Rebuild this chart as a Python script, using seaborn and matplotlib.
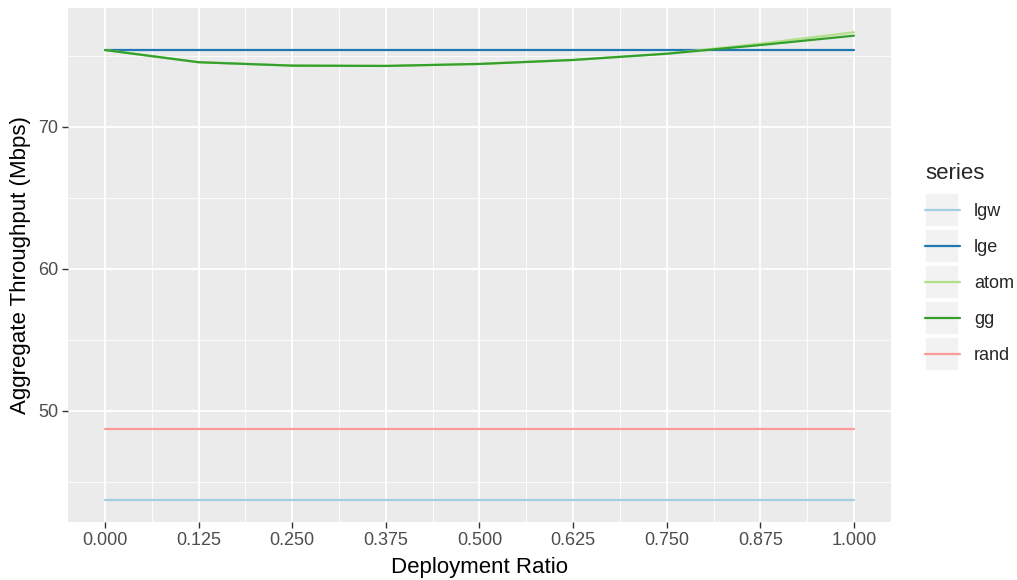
import numpy as np
import pandas as pd
import matplotlib
matplotlib.use("Agg")
import matplotlib.pyplot as plt
import seaborn as sns
from matplotlib.ticker import MultipleLocator
from matplotlib.lines import Line2D
from matplotlib.patches import Rectangle

# Deployment ratios on the x axis
ratios = [0.0, 0.125, 0.25, 0.375, 0.5, 0.625, 0.75, 0.875, 1.0]

# Aggregate throughput (Mbps) for each strategy
lgw = [43.73] * 9
lge = [75.42] * 9
atom = [75.42, 74.56, 74.33, 74.30, 74.44, 74.72, 75.16, 75.87, 76.67]
gg = [75.42, 74.56, 74.32, 74.30, 74.44, 74.72, 75.16, 75.77, 76.43]
rand = [48.73] * 9

series_names = ["lgw", "lge", "atom", "gg", "rand"]
series_values = [lgw, lge, atom, gg, rand]
colors = ["#A6CEE3", "#1F78B4", "#B2DF8A", "#33A02C", "#FB9A99"]

x_ticks = [0.0, 0.125, 0.25, 0.375, 0.5, 0.625, 0.75, 0.875, 1.0]
x_tick_labels = ["0.000", "0.125", "0.250", "0.375", "0.500", "0.625", "0.750", "0.875", "1.000"]
y_ticks = [50, 60, 70]

df = pd.DataFrame({
    "ratio": np.tile(ratios, len(series_names)),
    "throughput": np.concatenate(series_values),
    "series": np.repeat(series_names, len(ratios)),
})

sns.set_theme(style="darkgrid")
plt.rcParams["font.family"] = ["Liberation Sans", "DejaVu Sans"]

fig = plt.figure(figsize=(10.17, 5.80), dpi=100)
ax = fig.add_axes([68 / 1017, 1 - 522 / 580, (891 - 68) / 1017, (522 - 8) / 580])
ax.set_facecolor("#EBEBEB")

sns.lineplot(data=df, x="ratio", y="throughput", hue="series",
             hue_order=series_names, palette=colors, linewidth=1.6,
             ax=ax, legend=False, zorder=3)

ax.set_xlim(-0.0494, 1.0494)
ax.set_ylim(42.18, 78.38)
ax.set_xticks(x_ticks)
ax.set_xticklabels(x_tick_labels)
ax.set_yticks(y_ticks)
ax.xaxis.set_minor_locator(MultipleLocator(0.0625))
ax.yaxis.set_minor_locator(MultipleLocator(5))

ax.grid(which="major", color="white", linewidth=1.3, zorder=0)
ax.grid(which="minor", color="white", linewidth=0.6, zorder=0)
ax.set_axisbelow(True)
for s in ax.spines.values():
    s.set_visible(False)

ax.tick_params(axis="both", which="major", length=4, width=1, color="#333333",
               labelcolor="#4D4D4D", labelsize=13, pad=3, bottom=True, left=True)
ax.tick_params(axis="both", which="minor", length=0)

ax.set_xlabel("Deployment Ratio", fontsize=16, color="black", labelpad=6)
ax.set_ylabel("Aggregate Throughput (Mbps)", fontsize=16, color="black", labelpad=5)

# Legend with ggplot-like grey keys
handles = [Line2D([], [], color=c, linewidth=1.6) for c in colors]
leg = fig.legend(handles, series_names, title="series", loc="upper left",
                 bbox_to_anchor=(918 / 1017, 1 - 156 / 580), frameon=False,
                 fontsize=13, title_fontsize=16, handlelength=1.9,
                 handletextpad=0.8, labelspacing=1.05, alignment="left",
                 borderaxespad=0.0)
leg.get_title().set_ha("left")

fig.canvas.draw()
renderer = fig.canvas.get_renderer()
# grey boxes behind each legend key
for line in leg.get_lines():
    bb = line.get_window_extent(renderer)
    cx = (bb.x0 + bb.x1) / 2
    cy = (bb.y0 + bb.y1) / 2
    w, hgt = 34, 34
    rect = Rectangle(((cx - w / 2) / fig.bbox.width, (cy - hgt / 2) / fig.bbox.height),
                     w / fig.bbox.width, hgt / fig.bbox.height,
                     transform=fig.transFigure, facecolor="#F2F2F2",
                     edgecolor="white", linewidth=1.2, zorder=-1)
    fig.patches.append(rect)

fig.savefig("out.png", dpi=100, facecolor="white")
